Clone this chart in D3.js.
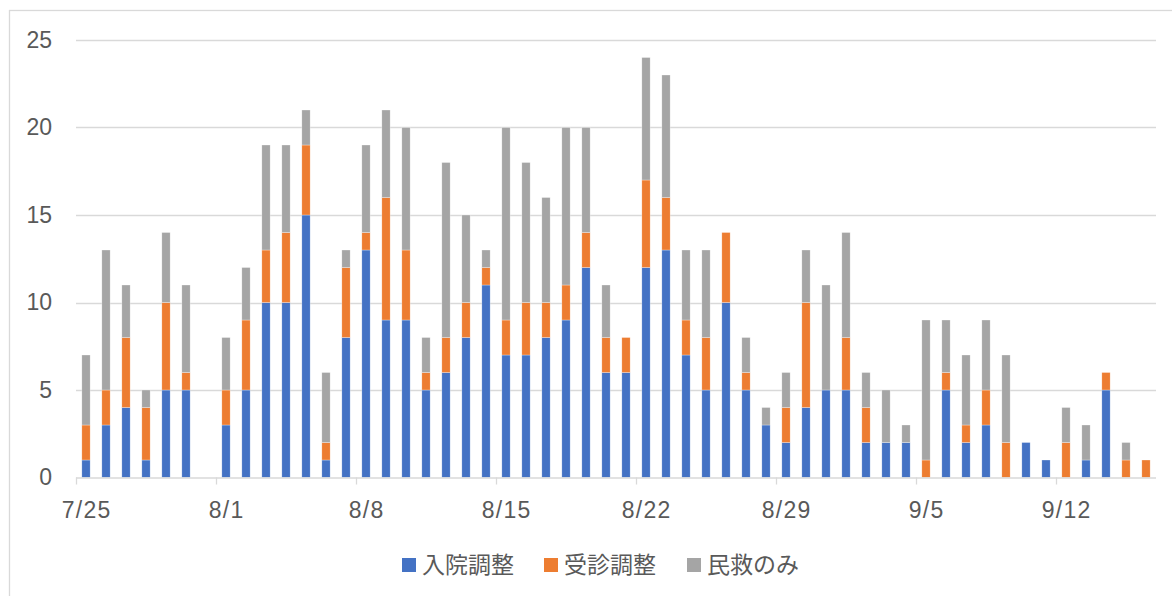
<!DOCTYPE html>
<html>
<head>
<meta charset="utf-8">
<script src="https://cdn.jsdelivr.net/npm/d3@7"></script>
<style>
  body { margin: 0; background: #fff; }
  svg { display: block; }
</style>
</head>
<body>
<div id="chart"></div>
<script>
// Chart size
let svgWidth = 1172;
let svgHeight = 596;

// plot area
let margin = { top: 40, right: 16, bottom: 118.5, left: 76 };
let width = svgWidth - margin.left - margin.right;
let height = svgHeight - margin.top - margin.bottom;

// Data: one value per day from 7/25 to 9/16
let dates = [
  "7/25", "7/26", "7/27", "7/28", "7/29", "7/30", "7/31",
  "8/1", "8/2", "8/3", "8/4", "8/5", "8/6", "8/7",
  "8/8", "8/9", "8/10", "8/11", "8/12", "8/13", "8/14",
  "8/15", "8/16", "8/17", "8/18", "8/19", "8/20", "8/21",
  "8/22", "8/23", "8/24", "8/25", "8/26", "8/27", "8/28",
  "8/29", "8/30", "8/31", "9/1", "9/2", "9/3", "9/4",
  "9/5", "9/6", "9/7", "9/8", "9/9", "9/10", "9/11",
  "9/12", "9/13", "9/14", "9/15", "9/16"
];
let tickLabels = ["7/25", "8/1", "8/8", "8/15", "8/22", "8/29", "9/5", "9/12"];

let seriesNames = ["入院調整", "受診調整", "民救のみ"];
let seriesColors = ["#4472C4", "#ED7D31", "#A5A5A5"];

let nyuin = [1, 3, 4, 1, 5, 5, 0, 3, 5, 10, 10, 15, 1, 8, 13, 9, 9, 5, 6, 8, 11, 7, 7, 8, 9, 12, 6, 6,
  12, 13, 7, 5, 10, 5, 3, 2, 4, 5, 5, 2, 2, 2, 0, 5, 2, 3, 0, 2, 1, 0, 1, 5, 0, 0];
let jushin = [2, 2, 4, 3, 5, 1, 0, 2, 4, 3, 4, 4, 1, 4, 1, 7, 4, 1, 2, 2, 1, 2, 3, 2, 2, 2, 2, 2,
  5, 3, 2, 3, 4, 1, 0, 2, 6, 0, 3, 2, 0, 0, 1, 1, 1, 2, 2, 0, 0, 2, 0, 1, 1, 1];
let minkyu = [4, 8, 3, 1, 4, 5, 0, 3, 3, 6, 5, 2, 4, 1, 5, 5, 7, 2, 10, 5, 1, 11, 8, 6, 9, 6, 3, 0,
  7, 7, 4, 5, 0, 2, 1, 2, 3, 6, 6, 2, 3, 1, 8, 3, 4, 4, 5, 0, 0, 2, 2, 0, 1, 0];

let yTicks = [0, 5, 10, 15, 20, 25];

let table = dates.map((d, i) => ({ date: d, s0: nyuin[i], s1: jushin[i], s2: minkyu[i] }));
let stacked = d3.stack().keys(["s0", "s1", "s2"])(table);

let svg = d3.select("#chart")
  .append("svg")
  .attr("width", svgWidth)
  .attr("height", svgHeight);

// outer chart border
svg.append("rect")
  .attr("x", 9.5)
  .attr("y", 10.5)
  .attr("width", 1175)
  .attr("height", 600)
  .attr("fill", "none")
  .attr("stroke", "#d9d9d9")
  .attr("stroke-width", 1.3);

let chartGroup = svg.append("g")
  .attr("transform", `translate(${margin.left}, ${margin.top})`);

let pad = 0.585;
let xScale = d3.scaleBand()
  .domain(dates)
  .range([0, width])
  .paddingInner(pad)
  .paddingOuter(pad / 2);

let yScale = d3.scaleLinear()
  .domain([0, 25])
  .range([height, 0]);

// gridlines
chartGroup.append("g")
  .selectAll("line")
  .data(yTicks.filter(t => t > 0))
  .enter()
  .append("line")
  .attr("x1", 0)
  .attr("x2", width)
  .attr("y1", d => Math.round(yScale(d)) + 0.5)
  .attr("y2", d => Math.round(yScale(d)) + 0.5)
  .attr("stroke", "#d9d9d9")
  .attr("stroke-width", 1.3);

// y axis labels
let leftAxis = d3.axisLeft(yScale).tickValues(yTicks).tickSize(0).tickPadding(24);
let yAxis = chartGroup.append("g").call(leftAxis);
yAxis.select(".domain").remove();
yAxis.selectAll("text")
  .attr("fill", "#595959")
  .style("font-family", "'Liberation Sans', Arial, sans-serif")
  .style("font-size", "23px");

// bars
chartGroup.append("g")
  .selectAll("g")
  .data(stacked)
  .enter()
  .append("g")
  .attr("fill", (d, i) => seriesColors[i])
  .selectAll("rect")
  .data(d => d)
  .enter()
  .append("rect")
  .attr("x", d => xScale(d.data.date))
  .attr("width", xScale.bandwidth())
  .attr("y", d => yScale(d[1]))
  .attr("height", d => yScale(d[0]) - yScale(d[1]))
  .attr("stroke", "#ffffff")
  .attr("stroke-width", 0.5)
  .attr("stroke-opacity", 0.6);

// x axis
let bottomAxis = d3.axisBottom(xScale).tickValues(tickLabels).tickSize(0).tickPadding(24);
let xAxis = chartGroup.append("g")
  .attr("transform", `translate(0, ${height})`)
  .call(bottomAxis);
xAxis.select(".domain").remove();
xAxis.selectAll("text")
  .attr("fill", "#595959")
  .attr("dx", "0.6px")
  .style("font-family", "'Liberation Sans', Arial, sans-serif")
  .style("font-size", "23px")
  .style("letter-spacing", "1.3px");

chartGroup.append("line")
  .attr("x1", 0)
  .attr("x2", width)
  .attr("y1", height + 0.5)
  .attr("y2", height + 0.5)
  .attr("stroke", "#d9d9d9")
  .attr("stroke-width", 1.3);

// tick marks between weeks
let half = xScale.step() * pad / 2;
chartGroup.append("g")
  .selectAll("line")
  .data(tickLabels)
  .enter()
  .append("line")
  .attr("x1", d => Math.round(xScale(d) - half) + 0.5)
  .attr("x2", d => Math.round(xScale(d) - half) + 0.5)
  .attr("y1", height)
  .attr("y2", height + 7)
  .attr("stroke", "#d9d9d9")
  .attr("stroke-width", 1.3);

// legend
let legendX = [402, 544, 687];
let legend = svg.append("g");
let items = legend.selectAll("g")
  .data(seriesNames)
  .enter()
  .append("g")
  .attr("transform", (d, i) => `translate(${legendX[i]}, 558)`);
items.append("rect")
  .attr("width", 14)
  .attr("height", 14)
  .attr("fill", (d, i) => seriesColors[i]);
items.append("text")
  .attr("x", 20)
  .attr("y", 7)
  .attr("dy", "0.36em")
  .attr("fill", "#595959")
  .style("font-family", "'Noto Sans CJK JP', sans-serif")
  .style("font-size", "23px")
  .text(d => d);
</script>
</body>
</html>
